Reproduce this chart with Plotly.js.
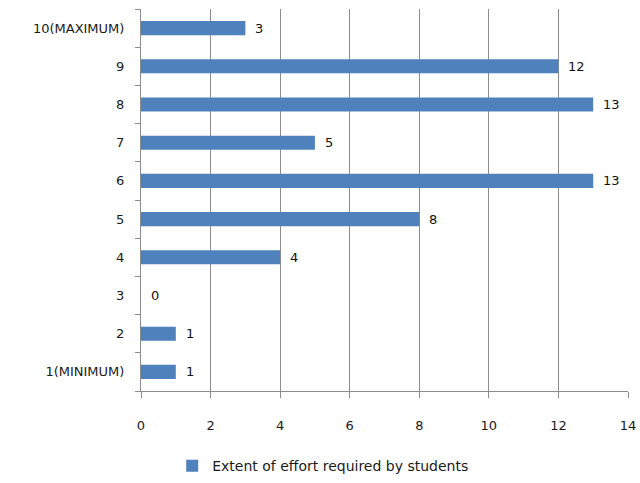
<!DOCTYPE html>
<html>
<head>
<meta charset="utf-8">
<script src="https://cdn.plot.ly/plotly-3.0.1.min.js"></script>
<style>html,body{margin:0;padding:0;background:#fff}#chart{width:640px;height:483px}</style>
</head>
<body>
<div id="chart"></div>
<script>
var categories = ["1(MINIMUM)", "2", "3", "4", "5", "6", "7", "8", "9", "10(MAXIMUM)"];
var values = [1, 1, 0, 4, 8, 13, 5, 13, 12, 3];
var seriesName = "Extent of effort required by students";
var xTicks = [0, 2, 4, 6, 8, 10, 12, 14];

var fam = "'DejaVu Sans', Verdana, sans-serif";
var font = {family: fam, size: 13, color: "#1a1a1a"};

var annotations = categories.map(function (c, i) {
  return {
    x: values[i], y: i, xref: "x", yref: "y",
    text: String(values[i]), showarrow: false,
    xanchor: "left", xshift: 8, font: {family: fam, size: 13, color: "#111"}
  };
});

var trace = {
  type: "bar", orientation: "h",
  x: values, y: categories, name: seriesName,
  width: 0.37,
  marker: {color: "#4F81BD"},
  showlegend: true, hoverinfo: "none"
};

var layout = {
  width: 640, height: 483,
  margin: {l: 141, r: 12, t: 9, b: 92},
  paper_bgcolor: "#fff", plot_bgcolor: "#fff",
  font: font,
  xaxis: {
    range: [0, 14], tickvals: xTicks, ticktext: xTicks.map(String),
    showgrid: true, gridcolor: "#8c8c8c", gridwidth: 1,
    showline: true, linecolor: "#8c8c8c", linewidth: 1,
    ticks: "outside", ticklen: 6, tickcolor: "#8c8c8c",
    ticklabelstandoff: 16,
    zeroline: false, fixedrange: true
  },
  yaxis: {
    type: "category", categoryorder: "array", categoryarray: categories,
    range: [-0.5, 9.5],
    showline: true, linecolor: "#8c8c8c", linewidth: 1,
    ticks: "outside", ticklen: 5, tickcolor: "#8c8c8c",
    tickson: "boundaries",
    ticklabelstandoff: 13,
    showgrid: false, zeroline: false, fixedrange: true
  },
  showlegend: true,
  legend: {
    orientation: "h", xref: "container", x: 0.505, xanchor: "center",
    yref: "container", y: 0.035, yanchor: "middle",
    itemwidth: 30,
    font: {family: fam, size: 14, color: "#1a1a1a"}
  },
  annotations: annotations
};

Plotly.newPlot("chart", [trace], layout, {displayModeBar: false, staticPlot: true});
</script>
</body>
</html>
